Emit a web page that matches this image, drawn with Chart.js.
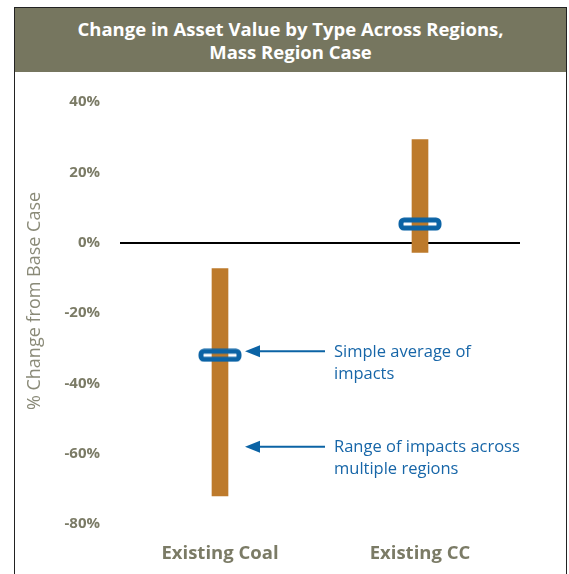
<!DOCTYPE html>
<html lang="en">
<head>
  <meta charset="UTF-8" />
  <title>Change in Asset Value by Type Across Regions</title>
  <script src="https://cdn.jsdelivr.net/npm/chart.js"></script>
  <style>
    body {
      margin: 0;
      background: #fff;
      font-family: 'Open Sans', sans-serif;
    }
    .page {
      position: relative;
      width: 569px;
      height: 574px;
      overflow: hidden;
    }
    .frame {
      position: absolute;
      left: 14px;
      top: 7px;
      width: 551px;
      height: 580px;
      border: 1.5px solid #222;
    }
    .banner {
      position: absolute;
      left: 15px;
      top: 8px;
      width: 551px;
      height: 64px;
      background: #76765f;
      color: #fff;
      font-weight: 700;
      font-size: 18.5px;
      line-height: 23px;
      text-align: center;
      padding-top: 9px;
      box-sizing: border-box;
    }
    .chart-box {
      position: absolute;
      left: 0;
      top: 72px;
      width: 569px;
      height: 502px;
    }
  </style>
</head>
<body>
  <div class="page">
    <div class="frame"></div>
    <div class="banner">Change in Asset Value by Type Across Regions,<br>Mass Region Case</div>
    <div class="chart-box"><canvas id="grafica"></canvas></div>
  </div>

  <script>
    // datos (% cambio)
    const categorias = ['Existing Coal', 'Existing CC'];
    const rangoMin = [-72, -2.8];
    const rangoMax = [-7.4, 29.3];
    const promedio = [-32, 5.3];
    const yTicks = [40, 20, 0, -20, -40, -60, -80];
    const flechaRangoValor = -58;

    const azul = '#0b63a5';
    const naranja = '#bd7a2b';
    const gris = '#7b7b66';

    // marcador del promedio: rectangulo redondeado hueco
    const marca = document.createElement('canvas');
    marca.width = 44;
    marca.height = 14;
    const mctx = marca.getContext('2d');
    mctx.strokeStyle = azul;
    mctx.lineWidth = 5;
    mctx.beginPath();
    mctx.roundRect(3, 3, 38, 8, 3);
    mctx.stroke();

    const anotaciones = {
      id: 'anotaciones',
      afterDatasetsDraw(chart) {
        const { ctx, scales } = chart;
        const xc = scales.x.getPixelForValue(0);
        const flechas = [
          { y: scales.y.getPixelForValue(promedio[0]) - 4, lineas: ['Simple average of', 'impacts'] },
          { y: scales.y.getPixelForValue(flechaRangoValor), lineas: ['Range of impacts across', 'multiple regions'] }
        ];
        ctx.save();
        flechas.forEach(f => {
          const punta = xc + 25, cola = xc + 105;
          ctx.strokeStyle = azul;
          ctx.fillStyle = azul;
          ctx.lineWidth = 2;
          ctx.beginPath();
          ctx.moveTo(punta + 10, f.y);
          ctx.lineTo(cola, f.y);
          ctx.stroke();
          ctx.beginPath();
          ctx.moveTo(punta, f.y);
          ctx.lineTo(punta + 15, f.y - 6);
          ctx.lineTo(punta + 15, f.y + 6);
          ctx.closePath();
          ctx.fill();
          ctx.fillStyle = '#1766a8';
          ctx.font = '16.5px "Open Sans"';
          ctx.textBaseline = 'middle';
          ctx.textAlign = 'left';
          f.lineas.forEach((t, i) => ctx.fillText(t, cola + 9, f.y + 1 + i * 22));
        });

        // titulo del eje y
        ctx.translate(35, (scales.y.top + scales.y.bottom) / 2 - 12);
        ctx.rotate(-Math.PI / 2);
        ctx.fillStyle = '#8a8a78';
        ctx.font = '18px "Open Sans"';
        ctx.textAlign = 'center';
        ctx.textBaseline = 'middle';
        ctx.fillText('% Change from Base Case', 0, 0);
        ctx.restore();
      }
    };

    new Chart(document.getElementById('grafica'), {
      type: 'bar',
      data: {
        labels: categorias,
        datasets: [
          {
            type: 'line',
            label: 'Simple average of impacts',
            data: promedio,
            showLine: false,
            pointStyle: marca,
            order: 1
          },
          {
            label: 'Range of impacts across multiple regions',
            data: rangoMin.map((v, i) => [v, rangoMax[i]]),
            backgroundColor: naranja,
            barThickness: 16,
            order: 2
          }
        ]
      },
      options: {
        responsive: true,
        maintainAspectRatio: false,
        animation: false,
        layout: { padding: { left: 16, right: 49, top: 30, bottom: 0 } },
        plugins: {
          legend: { display: false },
          tooltip: { enabled: false }
        },
        scales: {
          x: {
            grid: { display: false },
            border: { display: false },
            ticks: {
              color: gris,
              padding: 11,
              font: { family: 'Open Sans', size: 18.5, weight: 'bold' }
            },
            afterFit: s => { s.height = 50; }
          },
          y: {
            min: -80,
            max: 40,
            afterBuildTicks: s => { s.ticks = yTicks.map(v => ({ value: v })); },
            border: { display: false },
            grid: {
              drawTicks: false,
              lineWidth: 2,
              color: c => c.tick && c.tick.value === 0 ? '#000' : 'rgba(0,0,0,0)'
            },
            ticks: {
              color: gris,
              padding: 20,
              font: { family: 'Open Sans', size: 15, weight: 'bold' },
              callback: v => v + '%'
            },
            afterFit: s => { s.width = 104; }
          }
        }
      },
      plugins: [anotaciones]
    });
  </script>
</body>
</html>
